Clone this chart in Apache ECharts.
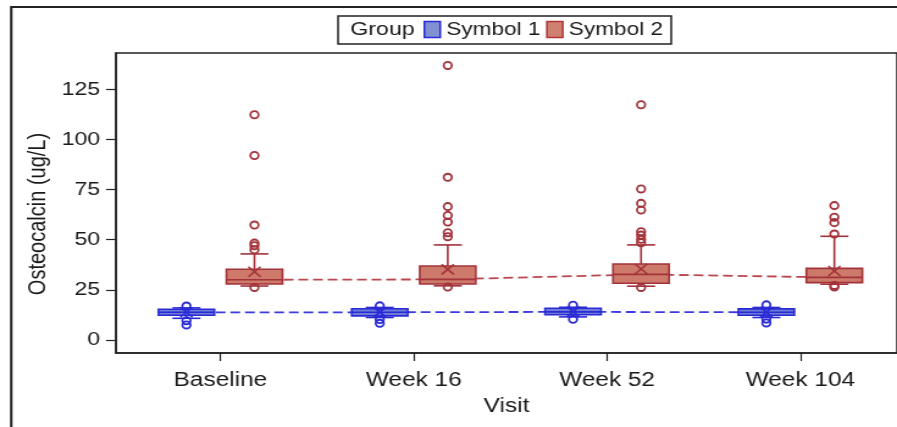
<!DOCTYPE html>
<html><head><meta charset="utf-8">
<script src="https://cdn.jsdelivr.net/npm/echarts@6/dist/echarts.min.js"></script>
<style>
html,body{margin:0;padding:0;background:#fff;overflow:hidden;}
#wrap{width:897px;height:427px;overflow:hidden;position:relative;background:#fff;}
#chart{width:735px;height:427px;transform:scaleX(1.2204);transform-origin:0 0;}
</style></head><body>
<div id="wrap"><div id="chart"></div></div>
<script>
const categories = ['Baseline', 'Week 16', 'Week 52', 'Week 104'];
const yTicks = [0, 25, 50, 75, 100, 125];

// Symbol 1
const s1Min    = [10.8, 11.2, 11.5, 11.2];
const s1Q1     = [12.3, 12.0, 12.6, 12.3];
const s1Median = [13.8, 13.8, 14.0, 13.8];
const s1Q3     = [15.3, 15.6, 15.8, 15.5];
const s1Max    = [16.0, 16.2, 16.3, 16.2];
const s1Mean   = [13.8, 13.9, 14.1, 13.9];
const s1Outliers = [[16.9, 9.6, 7.5], [17.0, 10.2, 8.3], [17.3, 10.3], [17.5, 10.4, 8.5]];

// Symbol 2
const s2Min    = [26.9, 27.0, 26.8, 27.8];
const s2Q1     = [27.9, 27.9, 28.3, 28.6];
const s2Median = [30.0, 30.2, 32.7, 31.2];
const s2Q3     = [35.3, 36.9, 37.9, 35.7];
const s2Max    = [42.9, 47.4, 47.4, 51.7];
const s2Mean   = [34.0, 35.2, 35.4, 34.4];
const s2Outliers = [[112.3, 92.0, 57.3, 48.3, 47.0, 45.0, 26.2],
                    [136.9, 81.1, 66.5, 62.1, 58.8, 53.5, 51.5, 26.4],
                    [117.3, 75.3, 68.1, 64.8, 54.0, 52.3, 50.2, 48.5, 26.2],
                    [67.0, 61.2, 58.5, 52.8, 27.2, 26.4]];

const FONT = "'Liberation Sans', Arial, sans-serif";
const TXT = '#1a1a1a';
const OFF = 0.176;      // group offset within a category (axis units)
const BOX_HALF = 0.145; // half box width (axis units)

const C1 = {stroke: '#2a2ad6', fill: '#6c7cd4', line: '#3b3be0'};
const C2 = {stroke: '#a3323a', fill: '#cd7a6a', line: '#b8474f'};

function boxData(mn, q1, md, q3, mx, mean) {
  return categories.map((c, i) => [i, mn[i], q1[i], md[i], q3[i], mx[i], mean[i]]);
}
function outlierData(out, off) {
  const r = [];
  out.forEach((arr, i) => arr.forEach(v => r.push([i + off, v])));
  return r;
}
function medianData(md, off) {
  return md.map((v, i) => [i + off, v]);
}
function makeBox(offset, col) {
  return function (params, api) {
    const x = api.value(0) + offset;
    const unit = api.size([1, 0])[0];
    const hw = unit * BOX_HALF, cw = hw * 0.5;
    const pMin = api.coord([x, api.value(1)]);
    const pQ1 = api.coord([x, api.value(2)]);
    const pMed = api.coord([x, api.value(3)]);
    const pQ3 = api.coord([x, api.value(4)]);
    const pMax = api.coord([x, api.value(5)]);
    const pMean = api.coord([x, api.value(6)]);
    const cx = pMed[0];
    const ls = {stroke: col.stroke, lineWidth: 1.6, fill: null};
    const mx = 5, my = 5;
    return {type: 'group', children: [
      {type: 'line', shape: {x1: cx, y1: pMin[1], x2: cx, y2: pQ1[1]}, style: ls},
      {type: 'line', shape: {x1: cx, y1: pQ3[1], x2: cx, y2: pMax[1]}, style: ls},
      {type: 'line', shape: {x1: cx - cw, y1: pMin[1], x2: cx + cw, y2: pMin[1]}, style: ls},
      {type: 'line', shape: {x1: cx - cw, y1: pMax[1], x2: cx + cw, y2: pMax[1]}, style: ls},
      {type: 'rect', shape: {x: cx - hw, y: pQ3[1], width: 2 * hw, height: pQ1[1] - pQ3[1]},
        style: {fill: col.fill, stroke: col.stroke, lineWidth: 1.6}},
      {type: 'line', shape: {x1: cx - hw, y1: pMed[1], x2: cx + hw, y2: pMed[1]}, style: ls},
      {type: 'line', shape: {x1: cx - mx, y1: pMean[1] - my, x2: cx + mx, y2: pMean[1] + my}, style: ls},
      {type: 'line', shape: {x1: cx - mx, y1: pMean[1] + my, x2: cx + mx, y2: pMean[1] - my}, style: ls}
    ]};
  };
}

const chart = echarts.init(document.getElementById('chart'), null, {renderer: 'canvas'});
chart.setOption({
  animation: false,
  backgroundColor: '#fff',
  textStyle: {fontFamily: FONT},
  graphic: [
    {type: 'rect', z: 0, shape: {x: 9.2, y: 7, width: 800, height: 500},
      style: {fill: null, stroke: '#222', lineWidth: 2}},
    {type: 'rect', z: 0, shape: {x: 277, y: 16, width: 273, height: 28},
      style: {fill: '#fff', stroke: '#222', lineWidth: 1.5}},
    {type: 'text', z: 5, x: 287, y: 30,
      style: {text: 'Group', fontSize: 19, fontFamily: FONT, fill: TXT, verticalAlign: 'middle'}},
    {type: 'text', z: 5, x: 31.1, y: 214, rotation: Math.PI / 2,
      style: {text: 'Osteocalcin (ug/L)', fontSize: 20, fontFamily: FONT, fill: TXT,
        align: 'center', verticalAlign: 'middle'}}
  ],
  legend: {
    left: 347, top: 20, padding: 0, itemWidth: 13, itemHeight: 16, itemGap: 4.5,
    selectedMode: false, icon: 'rect',
    textStyle: {fontSize: 18.5, fontFamily: FONT, color: TXT},
    data: [
      {name: 'Symbol 1', itemStyle: {color: '#8090d2', borderColor: '#2a2ad6', borderWidth: 1.5}},
      {name: 'Symbol 2', itemStyle: {color: '#d08070', borderColor: '#b03434', borderWidth: 1.5}}
    ]
  },
  grid: {left: 95.1, top: 53, width: 641, height: 300, show: true,
    borderColor: '#222', borderWidth: 1.5, backgroundColor: 'transparent'},
  xAxis: {
    type: 'value', min: -0.54, max: 3.5,
    splitLine: {show: false},
    axisLine: {show: true, onZero: false, lineStyle: {color: '#222', width: 1.5}},
    axisTick: {show: true, customValues: [0, 1, 2, 3], length: 8, lineStyle: {color: '#222', width: 1.2}},
    axisLabel: {customValues: [0, 1, 2, 3], formatter: v => categories[Math.round(v)],
      fontSize: 20, color: TXT, margin: 17, fontFamily: FONT},
    name: 'Visit', nameLocation: 'middle', nameGap: 43,
    nameTextStyle: {fontSize: 20, color: TXT, fontFamily: FONT}
  },
  yAxis: {
    type: 'value', min: -6.5, max: 143.1,
    splitLine: {show: false},
    axisLine: {show: true, onZero: false, lineStyle: {color: '#222', width: 1.5}},
    axisTick: {show: true, customValues: yTicks, length: 8.2, lineStyle: {color: '#222', width: 1.2}},
    axisLabel: {customValues: yTicks, fontSize: 19, color: TXT, margin: 13, fontFamily: FONT}
  },
  series: [
    {type: 'line', name: 'S1 median', z: 1, symbol: 'none', data: medianData(s1Median, -OFF),
      lineStyle: {color: C1.line, width: 1.8, type: [8, 4]}},
    {type: 'line', name: 'S2 median', z: 1, symbol: 'none', data: medianData(s2Median, OFF),
      lineStyle: {color: C2.line, width: 1.8, type: [8, 4]}},
    {type: 'custom', name: 'Symbol 1', z: 2, renderItem: makeBox(-OFF, C1),
      itemStyle: {color: '#8090d2'},
      encode: {x: 0, y: [1, 2, 3, 4, 5, 6]}, data: boxData(s1Min, s1Q1, s1Median, s1Q3, s1Max, s1Mean)},
    {type: 'custom', name: 'Symbol 2', z: 2, renderItem: makeBox(OFF, C2),
      itemStyle: {color: '#d08070'},
      encode: {x: 0, y: [1, 2, 3, 4, 5, 6]}, data: boxData(s2Min, s2Q1, s2Median, s2Q3, s2Max, s2Mean)},
    {type: 'scatter', name: 'S1 outliers', z: 3, symbol: 'circle', symbolSize: [6.6, 7.2],
      itemStyle: {color: 'rgba(0,0,0,0)', borderColor: C1.stroke, borderWidth: 1.8, opacity: 1},
      data: outlierData(s1Outliers, -OFF)},
    {type: 'scatter', name: 'S2 outliers', z: 3, symbol: 'circle', symbolSize: [6.6, 7.2],
      itemStyle: {color: 'rgba(0,0,0,0)', borderColor: C2.stroke, borderWidth: 1.8, opacity: 1},
      data: outlierData(s2Outliers, OFF)}
  ]
});
</script>
</body></html>
